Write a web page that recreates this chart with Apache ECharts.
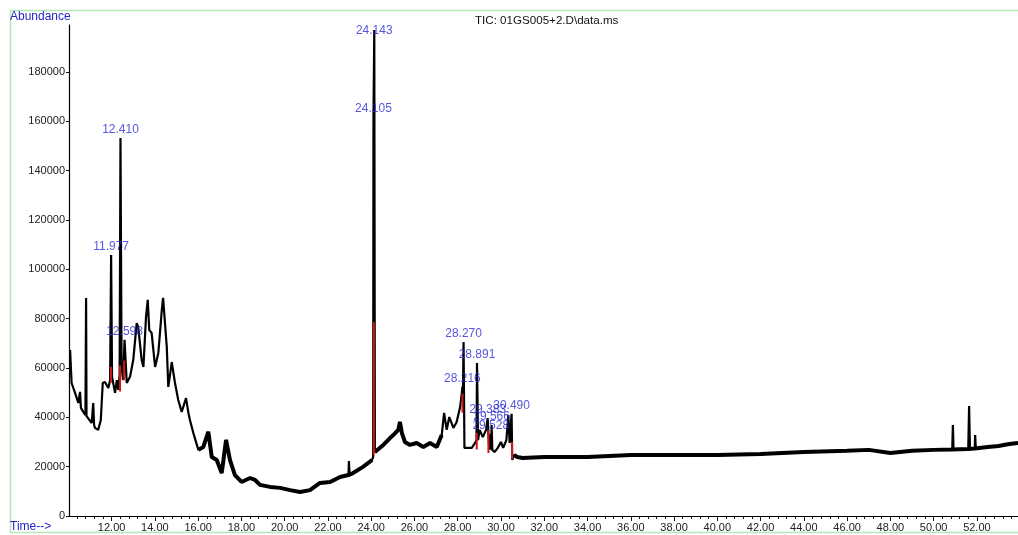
<!DOCTYPE html>
<html>
<head>
<meta charset="utf-8">
<script src="https://cdn.jsdelivr.net/npm/echarts@6/dist/echarts.min.js"></script>
<style>
html,body{margin:0;padding:0;background:#fff;}
#chart{width:1018px;height:535px;}
</style>
</head>
<body>
<div id="chart"></div>
<script>
// ---- data ----
const times = [10.08,10.15,10.31,10.46,10.54,10.58,10.69,10.79,10.82,10.84,10.92,11.08,11.15,11.19,11.23,11.38,11.50,11.59,11.69,11.85,11.93,11.977,12.02,12.16,12.24,12.31,12.37,12.410,12.46,12.53,12.598,12.70,12.85,13.00,13.16,13.23,13.39,13.47,13.59,13.67,13.74,13.85,14.01,14.16,14.32,14.38,14.47,14.55,14.62,14.70,14.78,14.93,15.08,15.24,15.44,15.55,15.62,15.78,16.01,16.24,16.47,16.63,16.86,17.09,17.29,17.47,17.70,18.01,18.40,18.63,18.86,19.32,19.79,20.25,20.71,21.17,21.63,22.10,22.56,22.95,22.97,23.00,23.16,23.62,24.04,24.09,24.105,24.143,24.17,24.56,24.87,25.02,25.25,25.33,25.42,25.56,25.79,26.10,26.41,26.72,27.03,27.26,27.37,27.49,27.61,27.80,27.95,28.11,28.19,28.216,28.24,28.270,28.31,28.65,28.80,28.87,28.891,28.94,29.01,29.16,29.31,29.383,29.45,29.50,29.528,29.55,29.566,29.60,29.70,29.85,30.00,30.10,30.25,30.34,30.40,30.490,30.52,30.60,30.75,31.00,32.00,34.00,36.00,38.00,40.00,42.00,44.00,46.00,47.00,48.00,49.00,50.00,50.86,50.89,50.92,51.60,51.64,51.68,51.90,51.92,51.95,52.50,53.00,53.50,53.90];
const abundance = [67300,53900,49900,45800,50300,43800,42200,40900,88400,40500,40100,37700,45800,36900,35700,34900,38900,53900,54300,51900,55100,105800,56400,49900,55100,51100,57200,153200,60400,55100,71400,53900,56400,63200,78200,76600,63200,60400,80700,87600,75400,74200,60400,66100,83500,88400,87600,68500,52300,57200,62400,53900,47000,42200,47800,41800,38900,33600,26800,28000,34100,23900,22700,17400,30800,22700,16600,13800,15400,14600,12600,11800,11400,10500,9700,10500,13400,13800,15800,16600,22300,17000,17400,19900,22700,24000,162000,197000,25900,28800,31600,32800,34900,38100,33600,30000,28800,29600,28000,29600,28000,32800,41800,34900,40100,35700,38100,44200,49900,52300,50000,70500,27600,27600,29600,30800,62000,30800,34900,32000,34900,39700,28000,27000,33200,28500,36900,26800,25900,27600,30000,27600,30800,40900,29600,41400,22700,24700,23900,23500,23900,23900,24700,24700,24700,25100,25900,26400,26800,25500,26400,26800,27000,36900,27000,27200,44600,27200,27400,32800,27400,28000,28400,29200,29600];

const peakTimes  = [11.977,12.410,12.598,24.105,24.143,28.216,28.270,28.891,29.383,29.528,29.566,30.490];
const peakLabels = ['11.977','12.410','12.598','24.105','24.143','28.216','28.270','28.891','29.383','29.528','29.566','30.490'];

// isolated narrow spikes on the noisy baseline
const spikeTimes = [22.97,50.89,51.64,51.92];

// integration marks (red)
const markTimes = [11.97,12.39,12.58,24.12,28.22,28.88,29.42,30.51];
const markLow   = [54000,50500,55000,24700,41800,27000,25500,23000];
const markHigh  = [60500,61000,63000,78600,49500,33600,34900,30000];

const yTicks = [0,20000,40000,60000,80000,100000,120000,140000,160000,180000];
const xLabels = [12,14,16,18,20,22,24,26,28,30,32,34,36,38,40,42,44,46,48,50,52];

// ---- build ----
const X_MIN = 10.03, X_MAX = 53.9, Y_MAX = 199000;
const tic = times.map((t, i) => [t, abundance[i]]);
// baseline noise band: quiet stretches of the same trace, without spikes
const band = [];
times.forEach((t, i) => {
  const quiet = (t >= 15.9 && t <= 24.06) || (t >= 24.17 && t <= 27.3) || (t >= 30.58);
  if (quiet && spikeTimes.indexOf(t) < 0) band.push([t, abundance[i]]);
  else if (band.length && band[band.length - 1] !== '-' && !quiet) band.push('-');
});
const peaks = peakTimes.map((t, i) => {
  const k = times.indexOf(t);
  const item = { value: [t, abundance[k]], name: peakLabels[i] };
  if (peakLabels[i] === '24.143') item.label = { position: 'inside', offset: [0, 1] };
  return item;
});
const marks = [];
markTimes.forEach((t, i) => { marks.push([t, markLow[i]], [t, markHigh[i]], '-'); });
const minorTicks = [];
for (let v = 10.4; v < X_MAX; v += 0.4) minorTicks.push(+v.toFixed(2));

const FONT = '"Liberation Sans", Arial, sans-serif';
const chart = echarts.init(document.getElementById('chart'), null, { renderer: 'canvas' });
chart.setOption({
  animation: false,
  backgroundColor: '#fff',
  title: {
    text: 'TIC: 01GS005+2.D\\data.ms',
    left: 470, top: 10,
    textStyle: { fontFamily: FONT, fontSize: 11.6, fontWeight: 'normal', color: '#111' }
  },
  graphic: [
    { type: 'rect', shape: { x: 10.5, y: 10.5, width: 1100, height: 522 }, style: { fill: 'none', stroke: '#b4e8b4', lineWidth: 1.5 }, silent: true, z: -1 },
    { type: 'text', left: 10, top: 11, style: { text: 'Abundance', fill: '#2424c8', font: '12px ' + FONT } },
    { type: 'text', left: 10, top: 521, style: { text: 'Time-->', fill: '#2424c8', font: '12px ' + FONT } }
  ],
  grid: { left: 69, right: 0, top: 25, bottom: 19, containLabel: false },
  xAxis: [
    {
      type: 'value', min: X_MIN, max: X_MAX, gridIndex: 0,
      splitLine: { show: false },
      axisLine: { onZero: false, lineStyle: { color: '#000', width: 1.2 } },
      axisTick: { customValues: xLabels, length: 5, lineStyle: { color: '#111' } },
      axisLabel: { customValues: xLabels, formatter: v => v.toFixed(2), margin: 6, fontFamily: FONT, fontSize: 11, color: '#222' }
    },
    {
      type: 'value', min: X_MIN, max: X_MAX, gridIndex: 0, position: 'bottom',
      splitLine: { show: false },
      axisLine: { show: false, onZero: false },
      axisTick: { customValues: minorTicks, length: 3, lineStyle: { color: '#111' } },
      axisLabel: { show: false }
    }
  ],
  yAxis: {
    type: 'value', min: 0, max: Y_MAX,
    splitLine: { show: false },
    axisLine: { show: true, lineStyle: { color: '#000', width: 1.2 } },
    axisTick: { show: true, customValues: yTicks, length: 3, lineStyle: { color: '#111' } },
    axisLabel: { customValues: yTicks, formatter: v => String(v), margin: 4, fontFamily: FONT, fontSize: 11, color: '#222' }
  },
  series: [
    {
      type: 'line', data: band, xAxisIndex: 0, showSymbol: false, symbol: 'none', connectNulls: false,
      lineStyle: { color: '#000', width: 4 }, z: 1, silent: true
    },
    {
      type: 'line', data: tic, xAxisIndex: 0, showSymbol: false, symbol: 'none',
      lineStyle: { color: '#000', width: 2.2 }, z: 2, clip: true
    },
    {
      type: 'line', data: marks, xAxisIndex: 0, showSymbol: false, symbol: 'none', connectNulls: false,
      lineStyle: { color: '#d01818', width: 2 }, z: 3
    },
    {
      type: 'scatter', data: peaks, xAxisIndex: 0, symbolSize: 0, z: 4,
      label: { show: true, position: 'top', distance: 2, formatter: p => p.name, fontFamily: FONT, fontSize: 12, color: '#2b2bd6' }
    }
  ]
});
</script>
</body>
</html>
